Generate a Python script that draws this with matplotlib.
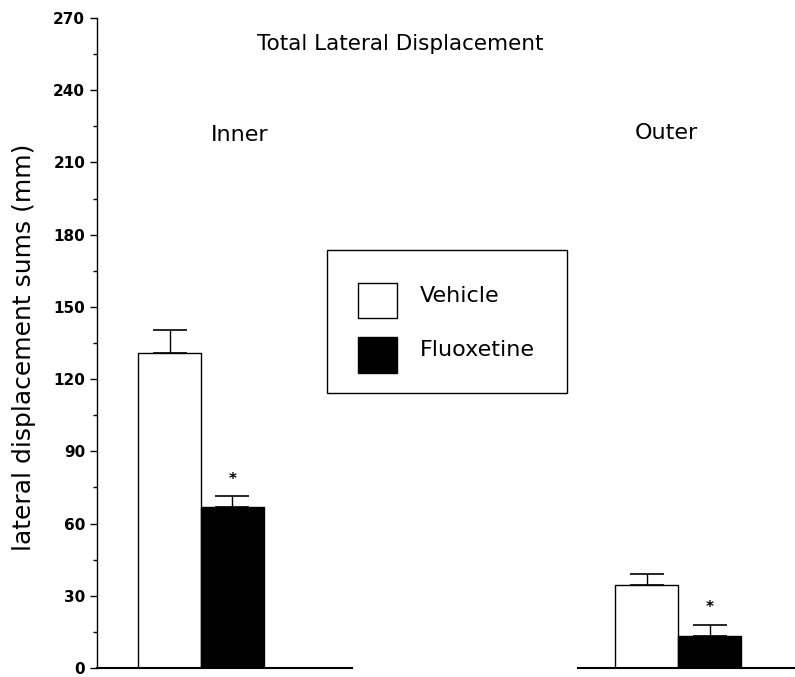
import matplotlib
matplotlib.use("Agg")
import matplotlib.pyplot as plt
import numpy as np
from matplotlib.patches import Rectangle
from matplotlib.ticker import MultipleLocator

groups = ["Inner", "Outer"]
series = ["Vehicle", "Fluoxetine"]
vehicle = [131.0, 34.5]
vehicle_err = [9.5, 4.5]
fluoxetine = [67.0, 13.5]
fluoxetine_err = [4.5, 4.5]
significant = [True, True]

W, H = 795, 677
fig = plt.figure(figsize=(W / 100, H / 100), dpi=100)
# axes: y-axis at x=97px, y=0 at 668px, y=270 at 18px
ax = fig.add_axes([97 / W, (H - 668) / H, (W - 97) / W, 650 / H])
ax.set_ylim(0, 270)
ax.set_xlim(-0.218, 1.245)

x = np.arange(len(groups))
w = 0.132
ax.bar(x - w / 2, vehicle, w, color="white", edgecolor="black", linewidth=1, zorder=2)
ax.bar(x + w / 2, fluoxetine, w, color="black", edgecolor="black", linewidth=1, zorder=2)
ax.errorbar(x - w / 2, vehicle, yerr=[np.zeros(2), vehicle_err], fmt="none",
            ecolor="black", elinewidth=1, capsize=12.5, capthick=1.2, zorder=1)
ax.errorbar(x + w / 2, fluoxetine, yerr=[np.zeros(2), fluoxetine_err], fmt="none",
            ecolor="black", elinewidth=1, capsize=12.5, capthick=1.2, zorder=1)
for i, s in enumerate(significant):
    if s:
        ax.text(x[i] + w / 2, fluoxetine[i] + fluoxetine_err[i] + 7, "*",
                ha="center", va="center", fontsize=11, fontweight="bold")

# baseline segments under each group
ax.plot([-0.218, 0.317], [0, 0], color="black", lw=1.5, clip_on=False)
ax.plot([0.790, 1.245], [0, 0], color="black", lw=1.5, clip_on=False)

for sp in ["top", "right", "bottom"]:
    ax.spines[sp].set_visible(False)
ax.spines["left"].set_linewidth(1)
ax.set_xticks([])
ax.yaxis.set_major_locator(MultipleLocator(30))
ax.yaxis.set_minor_locator(MultipleLocator(15))
ax.tick_params(axis="y", which="major", length=5, width=1, labelsize=11, pad=3.5)
ax.tick_params(axis="y", which="minor", length=3, width=1)
for lab in ax.get_yticklabels():
    lab.set_fontweight("bold")
ax.set_ylabel("lateral displacement sums (mm)", fontsize=18)
ax.yaxis.set_label_coords(-0.087, 0.494)

ax.text(0.417, 259, "Total Lateral Displacement", ha="center", va="center", fontsize=15.5)
ax.text(0.082, 221.5, groups[0], ha="center", va="center", fontsize=16)
ax.text(0.975, 222.4, groups[1], ha="center", va="center", fontsize=16)

# legend box drawn in pixel coordinates
def px(xp, yp):
    return xp / W, (H - yp) / H

box = Rectangle(px(327, 393), 240 / W, 143 / H, transform=fig.transFigure,
                facecolor="white", edgecolor="black", lw=1)
fig.patches.append(box)
for (y0, y1), name, col in [((283, 318), series[0], "white"), ((337, 373), series[1], "black")]:
    fig.patches.append(Rectangle(px(358, y1), 39 / W, (y1 - y0) / H, transform=fig.transFigure,
                                 facecolor=col, edgecolor="black", lw=1))
    fx, fy = px(420, (y0 + y1) / 2 - 5)
    fig.text(fx, fy, name, ha="left", va="center", fontsize=16)

fig.savefig("out.png", dpi=100)
